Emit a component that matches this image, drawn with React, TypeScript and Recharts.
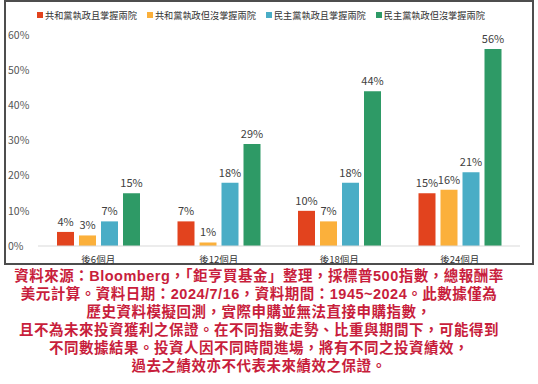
import React from "react";
import { BarChart, Bar, XAxis, YAxis, LabelList } from "recharts";

const periods = ["後6個月", "後12個月", "後18個月", "後24個月"];
const seriesNames = [
  "共和黨執政且掌握兩院",
  "共和黨執政但沒掌握兩院",
  "民主黨執政且掌握兩院",
  "民主黨執政但沒掌握兩院",
];
const seriesColors = ["#e2431e", "#fbb03b", "#4aadc6", "#2e9a66"];
const repFull = [4, 7, 10, 15];
const repSplit = [3, 1, 7, 16];
const demFull = [7, 18, 18, 21];
const demSplit = [15, 29, 44, 56];
const yTicks = [0, 10, 20, 30, 40, 50, 60];
const noteLines = [
  "資料來源：Bloomberg，「鉅亨買基金」整理，採標普500指數，總報酬率",
  "美元計算。資料日期：2024/7/16，資料期間：1945~2024。此數據僅為",
  "歷史資料模擬回測，實際申購並無法直接申購指數，",
  "且不為未來投資獲利之保證。在不同指數走勢、比重與期間下，可能得到",
  "不同數據結果。投資人因不同時間進場，將有不同之投資績效，",
  "過去之績效亦不代表未來績效之保證。",
];

const data = periods.map((p, i) => ({
  period: p,
  s0: repFull[i],
  s1: repSplit[i],
  s2: demFull[i],
  s3: demSplit[i],
}));

const font = "'Noto Sans CJK TC', 'Noto Sans', sans-serif";
const noteFont = "'Liberation Sans', 'Noto Sans CJK TC', sans-serif";

const YTick = (props: any) => {
  const { y, payload } = props;
  return (
    <text x={8} y={y} dy="0.35em" textAnchor="start" fontSize={10.5} fill="#555" fontFamily={font}>
      {payload.value}%
    </text>
  );
};

export default function App() {
  return (
    <div
      style={{
        position: "fixed",
        left: 0,
        top: 0,
        width: 538,
        height: 384,
        background: "#fff",
        fontFamily: font,
      }}
    >
      <div
        style={{
          position: "absolute",
          left: 4,
          top: 0,
          width: 530,
          height: 265,
          border: "2px solid #4d4d4d",
          boxSizing: "border-box",
        }}
      />
      <div
        style={{
          position: "absolute",
          left: 37,
          top: 8,
          display: "flex",
          gap: 10,
          fontSize: 9.2,
          color: "#333",
          lineHeight: "14px",
          whiteSpace: "nowrap",
        }}
      >
        {seriesNames.map((n, i) => (
          <span key={n} style={{ display: "flex", alignItems: "center" }}>
            <span
              style={{
                display: "inline-block",
                width: 6,
                height: 6,
                background: seriesColors[i],
                marginRight: 2,
              }}
            />
            {n}
          </span>
        ))}
      </div>
      <div style={{ position: "absolute", left: 0, top: 0 }}>
        <BarChart
          width={538}
          height={266}
          data={data}
          margin={{ top: 35, right: 18, left: 0, bottom: 0 }}
          barSize={17}
          barGap={5}
        >
          <XAxis
            dataKey="period"
            height={20}
            axisLine={{ stroke: "#d9d9d9" }}
            tickLine={false}
            tick={{ fontSize: 9.5, fill: "#333", fontFamily: font }}
            tickMargin={4}
          />
          <YAxis
            width={38}
            domain={[0, 60]}
            ticks={yTicks}
            axisLine={false}
            tickLine={false}
            tick={<YTick />}
          />
          {seriesNames.map((n, i) => (
            <Bar key={n} dataKey={`s${i}`} name={n} fill={seriesColors[i]} isAnimationActive={false}>
              <LabelList
                dataKey={`s${i}`}
                position="top"
                offset={6}
                formatter={(v: any) => `${v}%`}
                style={{ fontSize: 11, fill: "#404040", fontFamily: font }}
              />
            </Bar>
          ))}
        </BarChart>
      </div>
      <div
        style={{
          position: "absolute",
          left: 0,
          top: 267,
          width: 518,
          textAlign: "center",
          color: "#c81e3c",
          fontFamily: noteFont,
          fontWeight: 700,
          fontSize: 14.5,
          letterSpacing: 0.5,
          lineHeight: "18px",
          whiteSpace: "nowrap",
        }}
      >
        {noteLines.map((l) => (
          <div key={l}>{l}</div>
        ))}
      </div>
    </div>
  );
}
